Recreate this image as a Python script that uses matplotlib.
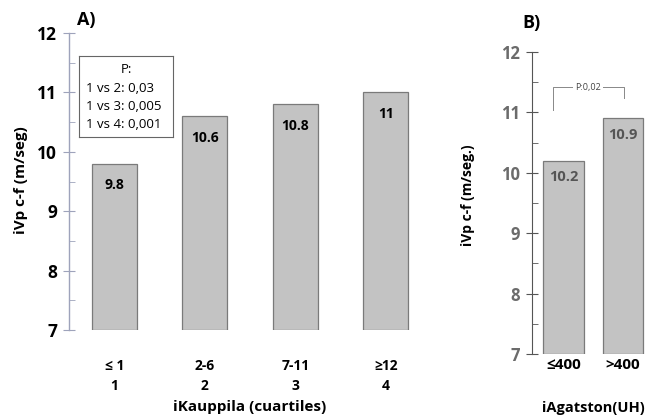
import numpy as np
import matplotlib.pyplot as plt
from matplotlib.ticker import MultipleLocator

plt.rcParams['font.family'] = ['Open Sans', 'DejaVu Sans']

# Panel A: iKauppila quartiles
kaup_top = ["≤ 1", "2-6", "7-11", "≥12"]
kaup_bottom = ["1", "2", "3", "4"]
kaup_vals = [9.8, 10.6, 10.8, 11.0]
kaup_labels = ["9.8", "10.6", "10.8", "11"]
p_lines = ["1 vs 2: 0,03", "1 vs 3: 0,005", "1 vs 4: 0,001"]

# Panel B: iAgatston
agat_cats = ["≤400", ">400"]
agat_vals = [10.2, 10.9]
agat_labels = ["10.2", "10.9"]
agat_p = "P:0,02"

BAR = "#c3c3c3"
EDGE = "#7a7a7a"
BASE = 7

fig = plt.figure(figsize=(6.53, 4.15), dpi=100)

# ---- panel A ----
axA = fig.add_axes([0.1057, 0.2048, 0.5683, 0.7157])
x = np.arange(len(kaup_vals))
axA.bar(x, np.array(kaup_vals) - BASE, bottom=BASE, width=0.5,
        color=BAR, edgecolor=EDGE, linewidth=0.9)
axA.set_xlim(-0.5, 3.6)
axA.set_ylim(7, 12)
for s in ["top", "right", "bottom"]:
    axA.spines[s].set_visible(False)
axA.spines["left"].set_color("#9ea3bb")
axA.spines["left"].set_linewidth(1.0)
axA.yaxis.set_major_locator(MultipleLocator(1))
axA.yaxis.set_minor_locator(MultipleLocator(0.5))
axA.tick_params(axis="y", which="major", direction="inout", length=9,
                color="#9ea3bb", labelsize=12.5, pad=4)
axA.tick_params(axis="y", which="minor", direction="in", length=4,
                color="#9ea3bb")
for t in axA.get_yticklabels():
    t.set_fontweight("bold")
axA.set_xticks([])
for xi, a, b in zip(x, kaup_top, kaup_bottom):
    axA.text(xi, 6.4, a, ha="center", va="center", fontsize=10,
             fontweight="bold")
    axA.text(xi, 6.06, b, ha="center", va="center", fontsize=10,
             fontweight="bold")
for xi, v, lab in zip(x, kaup_vals, kaup_labels):
    axA.text(xi, v - 0.36, lab, ha="center", va="center", fontsize=10,
             fontweight="bold")
axA.text(1.5, 5.7, "iKauppila (cuartiles)", ha="center", va="center",
         fontsize=11, fontweight="bold")
axA.text(-0.41, 12.22, "A)", ha="left", va="center", fontsize=13,
         fontweight="bold")
fig.text(0.032, 0.565, "iVp c-f (m/seg)", rotation=90, ha="center",
         va="center", fontsize=11, fontweight="bold")

# p-value box
boxA = fig.add_axes([0.121, 0.67, 0.144, 0.195])
boxA.set_xticks([])
boxA.set_yticks([])
for s in boxA.spines.values():
    s.set_color("#666666")
    s.set_linewidth(0.8)
boxA.text(0.5, 0.83, "P:", ha="center", va="center", fontsize=9.5)
for i, line in enumerate(p_lines):
    boxA.text(0.07, 0.6 - i * 0.225, line, ha="left", va="center", fontsize=9.5)

# ---- panel B ----
axB = fig.add_axes([0.8147, 0.147, 0.185, 0.7277])
xb = np.arange(len(agat_vals))
axB.bar(xb, np.array(agat_vals) - BASE, bottom=BASE, width=0.68,
        color=BAR, edgecolor=EDGE, linewidth=0.9)
axB.set_xlim(-0.525, 1.5)
axB.set_ylim(7, 12)
for s in ["top", "right", "bottom"]:
    axB.spines[s].set_visible(False)
axB.spines["left"].set_color("#555555")
axB.yaxis.set_major_locator(MultipleLocator(1))
axB.yaxis.set_minor_locator(MultipleLocator(0.5))
axB.tick_params(axis="y", which="major", direction="inout", length=9,
                color="#555555", labelsize=12, labelcolor="#6b6b6b", pad=4)
axB.tick_params(axis="y", which="minor", direction="in", length=4,
                color="#555555")
for t in axB.get_yticklabels():
    t.set_fontweight("bold")
axB.set_xticks(xb)
axB.set_xticklabels(agat_cats, fontsize=11, fontweight="bold")
axB.tick_params(axis="x", length=0, pad=3)
for xi, v, lab in zip(xb, agat_vals, agat_labels):
    axB.text(xi, v - 0.27, lab, ha="center", va="center", fontsize=10.5,
             fontweight="bold", color="#555555")

# significance bracket
axB.plot([-0.175, -0.175, 1.025, 1.025], [11.04, 11.42, 11.42, 11.24],
         color="#888888", linewidth=0.7, clip_on=False)
axB.text(0.42, 11.42, agat_p, ha="center", va="center", fontsize=6.5,
         color="#444444", bbox=dict(facecolor="white", edgecolor="none", pad=1.5))
axB.text(0.5, 6.1, "iAgatston(UH)", ha="center", va="center",
         fontsize=10.5, fontweight="bold", clip_on=False)
axB.text(-0.69, 12.48, "B)", ha="left", va="center", fontsize=13,
         fontweight="bold", clip_on=False)
fig.text(0.717, 0.53, "iVp c-f (m/seg.)", rotation=90, ha="center",
         va="center", fontsize=10, fontweight="bold")

fig.savefig("out.png", dpi=100)
